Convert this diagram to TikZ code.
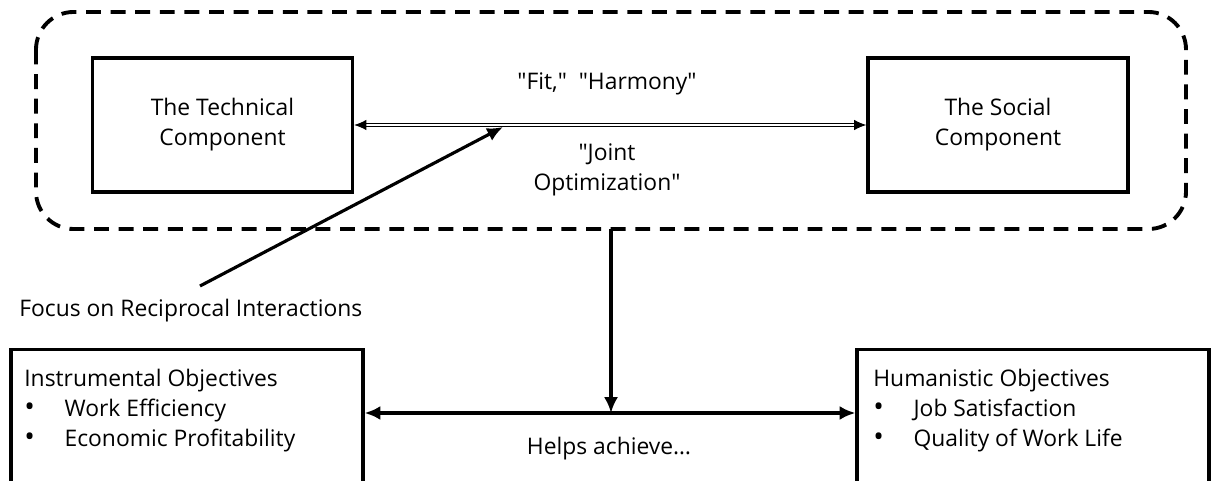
\documentclass[tikz,border=0pt]{standalone}
\usepackage{fontspec}
\setmainfont{Open Sans}
\usepackage{tikz}
\usetikzlibrary{arrows.meta}
\usetikzlibrary{positioning}
\tikzset{>=latex}
\tikzstyle{component}=[draw=black,line width=1.8pt,minimum width=5.2cm,minimum height=2.68cm,
                       align=center,font=\fontsize{13}{17}\selectfont,inner sep=0]
\tikzstyle{objective}=[draw=black,line width=1.8pt,minimum width=7.04cm,minimum height=3.0cm,inner sep=0]
\tikzstyle{label}=[font=\fontsize{13}{17}\selectfont,align=left,inner sep=0]
\tikzstyle{link}=[-{Latex[length=9pt,width=8pt]},black,line width=1.8pt]
\tikzstyle{system}=[draw=black,line width=2.2pt,dash pattern=on 8.5pt off 5.5pt,rounded corners=0.75cm]

\begin{document}
\begin{tikzpicture}
            \useasboundingbox (0,0) rectangle (24.22,-9.62);
            \def\bul{{\fontsize{16}{17}\selectfont\textbullet}\hspace{1.3em}}
            \def\q{\textquotedbl}

            % SOCIO-TECHNICAL SYSTEM
            \draw[system] (0.72,-0.24) rectangle (23.72,-4.58);
            \node[component] (tech) at (4.45,-2.5) {The Technical\\Component};
            \node[component] (social) at (19.96,-2.5) {The Social\\Component};
            \draw[{Latex[length=7pt,width=6pt]}-{Latex[length=7pt,width=6pt]},line width=0.7pt,
                  double=white,double distance=1.3pt] (tech) -- (social);
            \node[label,align=center] (fit) at (12.14,-1.68) {\q Fit,\q\ \ \q Harmony\q};
            \node[label,align=center] (joint) at (12.14,-3.4) {\q Joint\\Optimization\q};

            % RECIPROCAL INTERACTIONS
            \coordinate (hit) at (10.06,-2.54);
            \node[label,anchor=west] (focus) at (0.38,-6.22) {Focus on Reciprocal Interactions};
            \coordinate (foot) at (4.0,-5.72);
            \draw[link] (foot) -- (hit);

            % OBJECTIVES
            \node[objective,anchor=north] (instr) at (3.74,-6.96) {};
            \node[objective,anchor=north] (human) at (20.66,-6.96) {};
            \node[label,anchor=north west] (instrtext) at (0.48,-7.38)
                 {Instrumental Objectives\\\bul Work Efficiency\\\bul Economic Profitability};
            \node[label,anchor=north west] (humantext) at (17.46,-7.38)
                 {Humanistic Objectives\\\bul Job Satisfaction\\\bul Quality of Work Life};
            \coordinate (top) at (12.22,-4.58);
            \coordinate (mid) at (12.22,-8.26);
            \draw[link,{Latex[length=9pt,width=8pt]}-{Latex[length=9pt,width=8pt]}]
                 (mid -| instr.east) -- (mid -| human.west);
            \draw[link] (top) -- (mid);
            \node[label] (helps) at (12.18,-8.98) {Helps achieve…};

\end{tikzpicture}
\end{document}
